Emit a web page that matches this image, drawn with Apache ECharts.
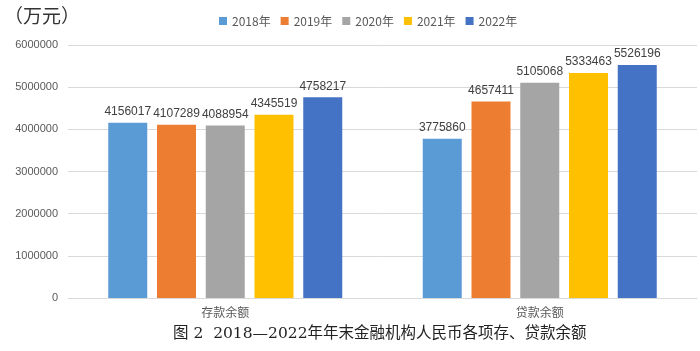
<!DOCTYPE html>
<html>
<head>
<meta charset="utf-8">
<script src="https://cdn.jsdelivr.net/npm/echarts@6/dist/echarts.min.js"></script>
<style>
  html, body { margin: 0; padding: 0; background: #fff; }
  #chartDom { width: 700px; height: 351px; }
</style>
</head>
<body>
<div id="chartDom"></div>
<script>
// 类别与年份
const categories = ['存款余额', '贷款余额'];
const years = ['2018年', '2019年', '2020年', '2021年', '2022年'];
// 各年数据（存款, 贷款）
const v2018 = [4156017, 3775860];
const v2019 = [4107289, 4657411];
const v2020 = [4088954, 5105068];
const v2021 = [4345519, 5333463];
const v2022 = [4758217, 5526196];
const yearValues = [v2018, v2019, v2020, v2021, v2022];
const colors = ['#5B9BD5', '#ED7D31', '#A5A5A5', '#FFC000', '#4472C4'];

const chart = echarts.init(document.getElementById('chartDom'));

chart.setOption({
  animation: false,
  color: colors,
  title: [
    {
      text: '（万元）',
      left: -1,
      top: 1,
      textStyle: { fontFamily: 'Noto Sans CJK SC', fontSize: 19, fontWeight: 'normal', color: '#333' }
    },
    {
      text: '图 2  2018—2022年年末金融机构人民币各项存、贷款余额',
      left: 168,
      top: 321,
      textStyle: { fontFamily: 'DejaVu Serif, Noto Sans CJK SC', fontSize: 15.5, fontWeight: 'normal', color: '#222' }
    }
  ],
  legend: {
    data: years,
    top: 10,
    left: 214,
    itemWidth: 8,
    itemHeight: 8,
    itemGap: 10,
    icon: 'rect',
    textStyle: { fontFamily: 'Noto Sans CJK SC', fontSize: 12, color: '#595959' }
  },
  grid: { left: 68, right: 3, top: 45, bottom: 53 },
  xAxis: {
    type: 'category',
    data: categories,
    axisLine: { lineStyle: { color: '#d9d9d9' } },
    axisTick: { show: false },
    axisLabel: { fontFamily: 'Noto Sans CJK SC', fontSize: 12, color: '#595959', margin: 8 }
  },
  yAxis: {
    type: 'value',
    min: 0,
    max: 6000000,
    interval: 1000000,
    axisLine: { show: false },
    axisTick: { show: false },
    splitLine: { lineStyle: { color: '#d9d9d9' } },
    axisLabel: {
      fontFamily: 'Liberation Sans',
      fontSize: 11,
      color: '#595959',
      margin: 10,
      formatter: (v) => String(v)
    }
  },
  series: years.map((y, i) => ({
    name: y,
    type: 'bar',
    data: yearValues[i],
    barWidth: 39,
    barGap: '25%',
    label: {
      show: true,
      position: 'top',
      distance: 5,
      fontFamily: 'Liberation Sans',
      fontSize: 12,
      color: '#404040'
    }
  }))
});
</script>
</body>
</html>
